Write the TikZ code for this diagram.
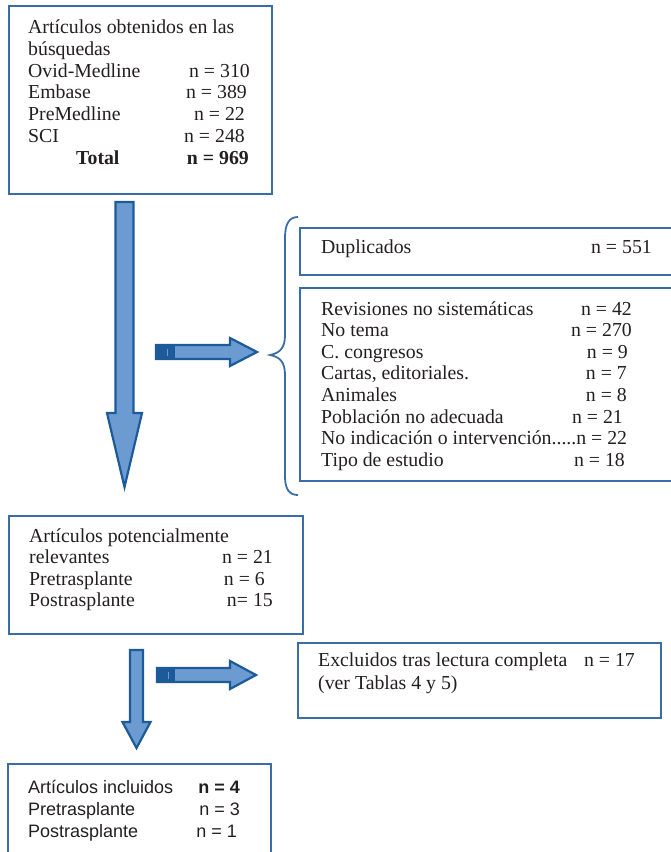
\documentclass[tikz,border=0pt]{standalone}
\usepackage{fontspec}
\setmainfont{Liberation Serif}
\newfontfamily\sansarial{Liberation Sans}
\usetikzlibrary{positioning}
\definecolor{marco}{HTML}{3A6DA6}
\definecolor{relleno}{HTML}{6C9BD2}
\definecolor{oscuro}{HTML}{1D5A9A}
\definecolor{tinta}{HTML}{231F20}
\newcommand\letra{\fontsize{19.8}{21.6}\selectfont}
\newcommand\letrasans{\sansarial\fontsize{18}{21}\selectfont}
\newcommand\puntos{.....}

\begin{document}
\begin{tikzpicture}[x=1pt,y=-1pt,
  caja/.style={draw=marco,line width=1.8pt,rectangle,inner sep=0pt,anchor=north west},
  txt/.style={anchor=base west,inner sep=0pt,text=tinta,font=\letra},
  num/.style={anchor=base east,inner sep=0pt,text=tinta,font=\letra},
  flecha/.style={draw=oscuro,fill=relleno,line width=2.2pt,line join=miter},
  tope/.style={fill=oscuro}]
  \useasboundingbox (0,0) rectangle (671,852);

  % cajas
  \node[caja,minimum width=263,minimum height=188] (busq) at (8,5) {};
  \node[caja,minimum width=380,minimum height=47] (dup) at (299,227) {};
  \node[caja,minimum width=380,minimum height=193] (rev) at (299,287) {};
  \node[caja,minimum width=294,minimum height=118] (pot) at (8,515) {};
  \node[caja,minimum width=363,minimum height=75] (excl) at (297,642) {};
  \node[caja,minimum width=263,minimum height=110] (incl) at (7,763) {};

  % busquedas
  \node[txt] (b0) at (28,33.5) {Artículos obtenidos en las};
  \node[txt] (b1) at (28,55.3) {búsquedas};
  \foreach \base/\nv/\xr [count=\i] in {Ovid-Medline/n = 310/250,Embase/n = 389/247,
      PreMedline/n = 22/245,SCI/n = 248/245}{
    \node[txt] (bt\i) at (28,{55.3+21.8*\i}) {\base};
    \node[num] (bn\i) at (\xr,{55.3+21.8*\i}) {\nv};
  }
  \node[txt,font=\letra\bfseries] (tot) at (76,164.3) {Total};
  \node[num,font=\letra\bfseries] (totn) at (249,164.3) {n = 969};

  % excluidos
  \node[txt] (d0) at (321,253) {Duplicados};
  \node[num] (dn) at (652,253) {n = 551};
  \foreach \mot/\nv/\xr [count=\i] in {Revisiones no sistemáticas/n = 42/632,No tema/n = 270/632,
      C. congresos/n = 9/628,{Cartas, editoriales.}/n = 7/627,Animales/n = 8/627,
      Población no adecuada/n = 21/623,{No indicación o intervención\puntos n = 22}//628,
      Tipo de estudio/n = 18/625}{
    \node[txt] (rt\i) at (321,{315+21.6*(\i-1)}) {\mot};
    \node[num] (rn\i) at (\xr,{315+21.6*(\i-1)}) {\nv};
  }

  % potencialmente relevantes
  \node[txt] (p0) at (29,542) {Artículos potencialmente};
  \node[txt] (p1) at (29,563.5) {relevantes};
  \node[num] (pn1) at (273,563.5) {n = 21};
  \node[txt] (p2) at (29,585) {Pretrasplante};
  \node[num] (pn2) at (265,585) {n = 6};
  \node[txt] (p3) at (29,606.5) {Postrasplante};
  \node[num] (pn3) at (273,606.5) {n= 15};

  \node[txt] (e0) at (318,666) {Excluidos tras lectura completa};
  \node[num] (en) at (635,666) {n = 17};
  \node[txt] (e1) at (318,689) {(ver Tablas 4 y 5)};

  % incluidos
  \node[txt,font=\letrasans] (i0) at (28,793) {Artículos incluidos};
  \node[num,font=\letrasans\bfseries] (in0) at (240,793) {n = 4};
  \node[txt,font=\letrasans] (i1) at (28,815) {Pretrasplante};
  \node[num,font=\letrasans] (in1) at (240,815) {n = 3};
  \node[txt,font=\letrasans] (i2) at (28,837) {Postrasplante};
  \node[num,font=\letrasans] (in2) at (237,837) {n = 1};

  % flechas
  \draw[flecha] (115.5,202) -- (133.5,202) -- (133.5,413) -- (142,413) -- (124.5,487)
    -- (107,413) -- (115.5,413) -- cycle;
  \draw[flecha] (130,650) -- (143,650) -- (143,722) -- (150.5,722) -- (136.5,748)
    -- (122.5,722) -- (130,722) -- cycle;
  \draw[flecha] (156,345) -- (230,345) -- (230,338) -- (257,352) -- (230,366)
    -- (230,359) -- (156,359) -- cycle;
  \fill[tope] (155,344) rectangle (175,360);
  \draw[relleno,line width=1pt] (167,349) -- (167,356);
  \draw[flecha] (157,668) -- (230,668) -- (230,661) -- (256,675) -- (230,689)
    -- (230,682) -- (157,682) -- cycle;
  \fill[tope] (156,667) rectangle (175,683);
  \draw[relleno,line width=1pt] (168,672) -- (168,679);

  % llave
  \draw[marco,line width=1.8pt] (298,217) .. controls (289,217) and (285,224) .. (285,238)
    -- (285,335) .. controls (285,348) and (280,353) .. (270,355)
    .. controls (280,357) and (285,362) .. (285,375)
    -- (285,476) .. controls (285,489) and (289,495) .. (298,495);
\end{tikzpicture}
\end{document}
